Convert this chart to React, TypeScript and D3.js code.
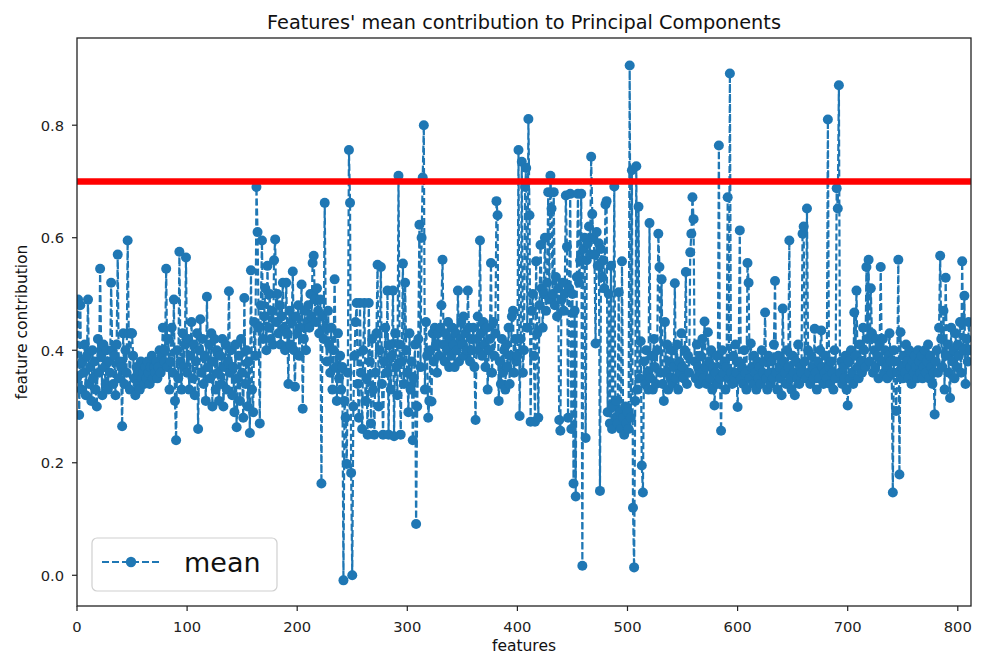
import React from 'react';
import * as d3 from 'd3';

const meanContribution: number[] = [
  0.35, 0.49, 0.285, 0.48, 0.33, 0.38, 0.36, 0.41, 0.32, 0.39,
  0.49, 0.34, 0.37, 0.31, 0.40, 0.35, 0.38, 0.33, 0.30, 0.42,
  0.36, 0.545, 0.39, 0.32, 0.41, 0.37, 0.34, 0.40, 0.33, 0.38,
  0.36, 0.52, 0.40, 0.34, 0.39, 0.32, 0.41, 0.57, 0.35, 0.38,
  0.37, 0.265, 0.43, 0.34, 0.40, 0.36, 0.595, 0.43, 0.33, 0.43,
  0.43, 0.39, 0.35, 0.32, 0.37, 0.34, 0.36, 0.33, 0.38, 0.35,
  0.36, 0.34, 0.37, 0.35, 0.38, 0.36, 0.34, 0.37, 0.39, 0.35,
  0.37, 0.36, 0.38, 0.35, 0.37, 0.40, 0.36, 0.39, 0.44, 0.38,
  0.40, 0.545, 0.37, 0.42, 0.33, 0.38, 0.44, 0.36, 0.49, 0.31,
  0.24, 0.40, 0.35, 0.575, 0.38, 0.33, 0.43, 0.37, 0.41, 0.565,
  0.36, 0.42, 0.33, 0.39, 0.45, 0.35, 0.41, 0.32, 0.38, 0.43,
  0.26, 0.40, 0.455, 0.36, 0.42, 0.34, 0.39, 0.31, 0.495, 0.37,
  0.41, 0.35, 0.43, 0.30, 0.38, 0.42, 0.33, 0.40, 0.36, 0.31,
  0.39, 0.34, 0.42, 0.30, 0.37, 0.41, 0.33, 0.38, 0.505, 0.36,
  0.40, 0.32, 0.37, 0.29, 0.41, 0.263, 0.35, 0.39, 0.31, 0.42,
  0.36, 0.28, 0.493, 0.34, 0.40, 0.30, 0.38, 0.253, 0.542, 0.33,
  0.29, 0.45, 0.39, 0.69, 0.61, 0.44, 0.27, 0.48, 0.595, 0.42,
  0.46, 0.51, 0.40, 0.55, 0.44, 0.50, 0.42, 0.47, 0.41, 0.56,
  0.597, 0.45, 0.50, 0.43, 0.48, 0.41, 0.46, 0.52, 0.44, 0.40,
  0.52, 0.43, 0.34, 0.47, 0.41, 0.45, 0.54, 0.40, 0.335, 0.46,
  0.43, 0.48, 0.39, 0.44, 0.517, 0.296, 0.42, 0.47, 0.40, 0.45,
  0.48, 0.44, 0.50, 0.46, 0.555, 0.568, 0.49, 0.45, 0.51, 0.47,
  0.43, 0.49, 0.163, 0.46, 0.42, 0.662, 0.44, 0.38, 0.47, 0.41,
  0.36, 0.44, 0.33, 0.40, 0.526, 0.37, 0.31, 0.43, 0.35, 0.39,
  0.33, 0.37, -0.009, 0.31, 0.28, 0.198, 0.36, 0.756, 0.662, 0.182,
  0.0, 0.30, 0.39, 0.45, 0.484, 0.34, 0.28, 0.484, 0.36, 0.26,
  0.40, 0.484, 0.31, 0.35, 0.25, 0.484, 0.38, 0.27, 0.42, 0.33,
  0.25, 0.36, 0.43, 0.552, 0.30, 0.40, 0.548, 0.34, 0.25, 0.38,
  0.44, 0.36, 0.506, 0.25, 0.41, 0.33, 0.39, 0.506, 0.247, 0.43,
  0.37, 0.32, 0.71, 0.41, 0.25, 0.38, 0.554, 0.34, 0.52, 0.40,
  0.36, 0.29, 0.43, 0.33, 0.38, 0.24, 0.35, 0.41, 0.091, 0.30,
  0.42, 0.623, 0.37, 0.60, 0.707, 0.80, 0.33, 0.45, 0.39, 0.28,
  0.31, 0.40, 0.309, 0.43, 0.38, 0.44, 0.41, 0.36, 0.43, 0.39,
  0.44, 0.48, 0.561, 0.41, 0.38, 0.43, 0.40, 0.45, 0.37, 0.42,
  0.39, 0.44, 0.41, 0.37, 0.43, 0.40, 0.506, 0.38, 0.42, 0.45,
  0.41, 0.46, 0.39, 0.43, 0.40, 0.506, 0.44, 0.38, 0.42, 0.40,
  0.44, 0.37, 0.276, 0.42, 0.46, 0.40, 0.595, 0.43, 0.39, 0.45,
  0.41, 0.37, 0.44, 0.33, 0.40, 0.42, 0.555, 0.36, 0.45, 0.39,
  0.43, 0.665, 0.64, 0.31, 0.38, 0.34, 0.42, 0.36, 0.40, 0.33,
  0.41, 0.37, 0.44, 0.34, 0.39, 0.46, 0.47, 0.36, 0.42, 0.38,
  0.39, 0.756, 0.283, 0.42, 0.735, 0.36, 0.40, 0.69, 0.724, 0.44,
  0.811, 0.64, 0.273, 0.47, 0.50, 0.39, 0.273, 0.558, 0.43, 0.28,
  0.48, 0.587, 0.51, 0.44, 0.50, 0.60, 0.47, 0.52, 0.681, 0.49,
  0.71, 0.652, 0.50, 0.681, 0.48, 0.53, 0.46, 0.51, 0.276, 0.257,
  0.49, 0.52, 0.47, 0.50, 0.675, 0.584, 0.28, 0.51, 0.678, 0.26,
  0.50, 0.163, 0.47, 0.14, 0.53, 0.678, 0.52, 0.56, 0.678, 0.017,
  0.58, 0.60, 0.244, 0.56, 0.59, 0.62, 0.57, 0.744, 0.642, 0.60,
  0.57, 0.412, 0.61, 0.55, 0.59, 0.15, 0.58, 0.53, 0.56, 0.51,
  0.659, 0.665, 0.29, 0.50, 0.27, 0.55, 0.26, 0.30, 0.691, 0.28,
  0.31, 0.27, 0.503, 0.29, 0.26, 0.558, 0.28, 0.25, 0.30, 0.27,
  0.29, 0.26, 0.906, 0.28, 0.72, 0.12, 0.014, 0.31, 0.727, 0.33,
  0.655, 0.35, 0.416, 0.195, 0.147, 0.38, 0.34, 0.40, 0.36, 0.33,
  0.626, 0.35, 0.39, 0.33, 0.42, 0.37, 0.34, 0.40, 0.607, 0.548,
  0.36, 0.526, 0.34, 0.31, 0.45, 0.36, 0.41, 0.33, 0.38, 0.35,
  0.40, 0.34, 0.37, 0.519, 0.35, 0.41, 0.33, 0.38, 0.36, 0.43,
  0.37, 0.35, 0.40, 0.539, 0.34, 0.39, 0.36, 0.574, 0.607, 0.672,
  0.633, 0.38, 0.35, 0.41, 0.37, 0.34, 0.39, 0.36, 0.42, 0.35,
  0.451, 0.37, 0.34, 0.432, 0.38, 0.35, 0.40, 0.33, 0.37, 0.302,
  0.36, 0.39, 0.34, 0.764, 0.35, 0.257, 0.40, 0.36, 0.38, 0.33,
  0.37, 0.672, 0.35, 0.892, 0.36, 0.34, 0.39, 0.35, 0.41, 0.36,
  0.299, 0.38, 0.613, 0.35, 0.37, 0.34, 0.40, 0.36, 0.33, 0.555,
  0.52, 0.35, 0.412, 0.37, 0.34, 0.39, 0.36, 0.33, 0.38, 0.35,
  0.37, 0.34, 0.40, 0.36, 0.38, 0.467, 0.35, 0.33, 0.39, 0.36,
  0.34, 0.38, 0.35, 0.41, 0.523, 0.36, 0.33, 0.39, 0.37, 0.35,
  0.32, 0.474, 0.38, 0.36, 0.34, 0.40, 0.37, 0.595, 0.35, 0.33,
  0.39, 0.36, 0.32, 0.38, 0.35, 0.41, 0.34, 0.37, 0.36, 0.607,
  0.62, 0.38, 0.35, 0.652, 0.40, 0.36, 0.34, 0.39, 0.37, 0.35,
  0.438, 0.36, 0.33, 0.38, 0.35, 0.40, 0.435, 0.37, 0.34, 0.36,
  0.39, 0.35, 0.81, 0.37, 0.34, 0.38, 0.36, 0.33, 0.40, 0.35,
  0.688, 0.652, 0.871, 0.36, 0.38, 0.34, 0.37, 0.35, 0.39, 0.33,
  0.302, 0.38, 0.35, 0.40, 0.36, 0.34, 0.467, 0.39, 0.506, 0.37,
  0.35, 0.41, 0.38, 0.36, 0.44, 0.40, 0.37, 0.548, 0.42, 0.561,
  0.38, 0.51, 0.43, 0.36, 0.40, 0.37, 0.42, 0.39, 0.35, 0.41,
  0.548, 0.38, 0.42, 0.36, 0.40, 0.37, 0.35, 0.39, 0.43, 0.38,
  0.36, 0.147, 0.40, 0.38, 0.292, 0.36, 0.561, 0.179, 0.432, 0.37,
  0.35, 0.39, 0.36, 0.41, 0.38, 0.35, 0.40, 0.37, 0.34, 0.38,
  0.36, 0.39, 0.37, 0.35, 0.40, 0.38, 0.36, 0.39, 0.35, 0.37,
  0.40, 0.36, 0.38, 0.41, 0.35, 0.39, 0.37, 0.34, 0.36, 0.286,
  0.38, 0.40, 0.36, 0.44, 0.568, 0.42, 0.37, 0.47, 0.33, 0.529,
  0.39, 0.41, 0.36, 0.315, 0.44, 0.38, 0.40, 0.35, 0.43, 0.37,
  0.41, 0.39, 0.45, 0.36, 0.558, 0.40, 0.497, 0.34, 0.42, 0.38,
  0.45, 0.40,
];

const thresholdValue = 0.7;
const xTickValues = [0, 100, 200, 300, 400, 500, 600, 700, 800];
const yTickValues = [0.0, 0.2, 0.4, 0.6, 0.8];
const titleText = "Features' mean contribution to Principal Components";
const xLabelText = 'features';
const yLabelText = 'feature contribution';
const legendText = 'mean';

const BLUE = '#1f77b4';
const FONT = "'DejaVu Sans', sans-serif";

export default function App() {
  const W = 981;
  const H = 655;
  const left = 77;
  const right = 971;
  const top = 38;
  const bottom = 606;

  const x = d3.scaleLinear().domain([0, 812]).range([left, right]);
  const y = d3.scaleLinear().domain([-0.0546, 0.955]).range([bottom, top]);

  const lineGen = d3
    .line<number>()
    .x((_, i) => x(i))
    .y((d) => y(d));
  const pathD = lineGen(meanContribution) || '';

  return (
    <svg
      width={W}
      height={H}
      viewBox={`0 0 ${W} ${H}`}
      style={{ position: 'absolute', left: 0, top: 0, background: '#fff' }}
      fontFamily={FONT}
    >
      <defs>
        <clipPath id="plotClip">
          <rect x={left} y={top} width={right - left} height={bottom - top} />
        </clipPath>
      </defs>
      <rect x={0} y={0} width={W} height={H} fill="#fff" />

      <g clipPath="url(#plotClip)">
        <path
          d={pathD}
          fill="none"
          stroke={BLUE}
          strokeWidth={2.2}
          strokeDasharray="7,3"
        />
        {meanContribution.map((v, i) => (
          <circle key={i} cx={x(i)} cy={y(v)} r={5} fill={BLUE} />
        ))}
        <line
          x1={left}
          x2={right}
          y1={y(thresholdValue)}
          y2={y(thresholdValue)}
          stroke="#ff0000"
          strokeWidth={6.5}
        />
      </g>

      {/* frame */}
      <rect
        x={left}
        y={top}
        width={right - left}
        height={bottom - top}
        fill="none"
        stroke="#222"
        strokeWidth={1.3}
      />

      {/* x ticks */}
      {xTickValues.map((t) => (
        <g key={`xt${t}`}>
          <line x1={x(t)} x2={x(t)} y1={bottom} y2={bottom + 5} stroke="#222" strokeWidth={1.2} />
          <text x={x(t)} y={bottom + 26} textAnchor="middle" fontSize={14.7} fill="#222">
            {t}
          </text>
        </g>
      ))}

      {/* y ticks */}
      {yTickValues.map((t) => (
        <g key={`yt${t}`}>
          <line x1={left - 5} x2={left} y1={y(t)} y2={y(t)} stroke="#222" strokeWidth={1.2} />
          <text x={left - 13} y={y(t) + 5.3} textAnchor="end" fontSize={14.7} fill="#222">
            {t.toFixed(1)}
          </text>
        </g>
      ))}

      {/* title */}
      <text x={(left + right) / 2} y={29} textAnchor="middle" fontSize={19.3} fill="#111">
        {titleText}
      </text>

      {/* axis labels */}
      <text x={(left + right) / 2} y={651} textAnchor="middle" fontSize={15.5} fill="#111">
        {xLabelText}
      </text>
      <text
        transform={`translate(27, ${(top + bottom) / 2}) rotate(-90)`}
        textAnchor="middle"
        fontSize={15.5}
        fill="#111"
      >
        {yLabelText}
      </text>

      {/* legend */}
      <g>
        <rect
          x={92}
          y={538}
          width={185}
          height={53}
          rx={5}
          ry={5}
          fill="#fff"
          fillOpacity={0.8}
          stroke="#d0d0d0"
          strokeWidth={1.2}
        />
        <line x1={102} x2={160} y1={562} y2={562} stroke={BLUE} strokeWidth={2.2} strokeDasharray="7,3" />
        <circle cx={131} cy={562} r={5.2} fill={BLUE} />
        <text x={184} y={572} fontSize={27} fill="#111">
          {legendText}
        </text>
      </g>
    </svg>
  );
}
